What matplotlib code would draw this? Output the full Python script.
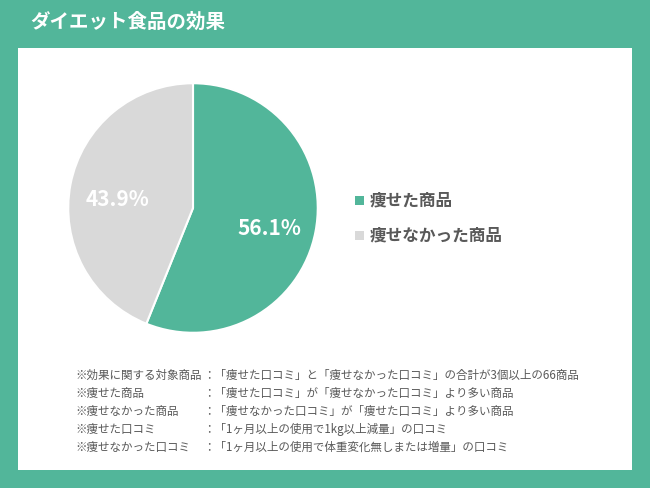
import matplotlib
matplotlib.use("Agg")
import matplotlib.pyplot as plt
import numpy as np
from matplotlib.patches import Rectangle

plt.rcParams['font.family'] = ['Noto Sans CJK JP', 'DejaVu Sans']

labels = ["痩せた商品", "痩せなかった商品"]
values = [56.1, 43.9]
colors = ["#52b69a", "#d9d9d9"]
title = "ダイエット食品の効果"
notes_left = ["※効果に関する対象商品", "※痩せた商品", "※痩せなかった商品", "※痩せた口コミ", "※痩せなかった口コミ"]
notes_right = [
    "：「痩せた口コミ」と「痩せなかった口コミ」の合計が3個以上の66商品",
    "：「痩せた口コミ」が「痩せなかった口コミ」より多い商品",
    "：「痩せなかった口コミ」が「痩せた口コミ」より多い商品",
    "：「1ヶ月以上の使用で1kg以上減量」の口コミ",
    "：「1ヶ月以上の使用で体重変化無しまたは増量」の口コミ",
]

W, H = 650, 488
fig = plt.figure(figsize=(W / 100, H / 100), dpi=100)
fig.patch.set_facecolor("#52b69a")

def fx(x): return x / W
def fy(y): return 1 - y / H

fig.patches.append(Rectangle((fx(18), fy(470)), fx(632) - fx(18), fy(48) - fy(470),
                             transform=fig.transFigure, facecolor="white", edgecolor="none", zorder=-5))
fig.text(fx(30), fy(22), title, color="white", fontsize=14, fontweight="bold", va="center")

r = 126
ax = fig.add_axes([fx(193 - r), fy(208 + r), 2 * r / W, 2 * r / H], zorder=5)
ax.patch.set_visible(False)
wedges, texts = ax.pie(values, colors=colors, startangle=90, counterclock=False,
                       wedgeprops=dict(edgecolor="white", linewidth=1.5))
for w, v in zip(wedges, values):
    ang = np.deg2rad((w.theta1 + w.theta2) / 2)
    ax.text(0.62 * np.cos(ang), 0.62 * np.sin(ang) - 0.05, f"{v}%", color="white",
            fontsize=15, fontweight="bold", ha="center", va="center")
ax.set_aspect("equal")
ax.set_xlim(-1.01, 1.01); ax.set_ylim(-1.01, 1.01)
ax.axis("off")

for i, (lab, c) in enumerate(zip(labels, colors)):
    y = 200 + i * 35
    fig.patches.append(Rectangle((fx(355), fy(y + 4.5)), 9 / W, 9 / H,
                                 transform=fig.transFigure, facecolor=c, edgecolor="none"))
    fig.text(fx(370), fy(y), lab, color="#595959", fontsize=12, fontweight="bold", va="center")

for i, (a, b) in enumerate(zip(notes_left, notes_right)):
    y = 375 + i * 18
    fig.text(fx(75), fy(y), a, color="#595959", fontsize=8.3, va="center")
    fig.text(fx(203), fy(y), b, color="#595959", fontsize=8.3, va="center")

fig.savefig("out.png", dpi=100, facecolor=fig.get_facecolor())
